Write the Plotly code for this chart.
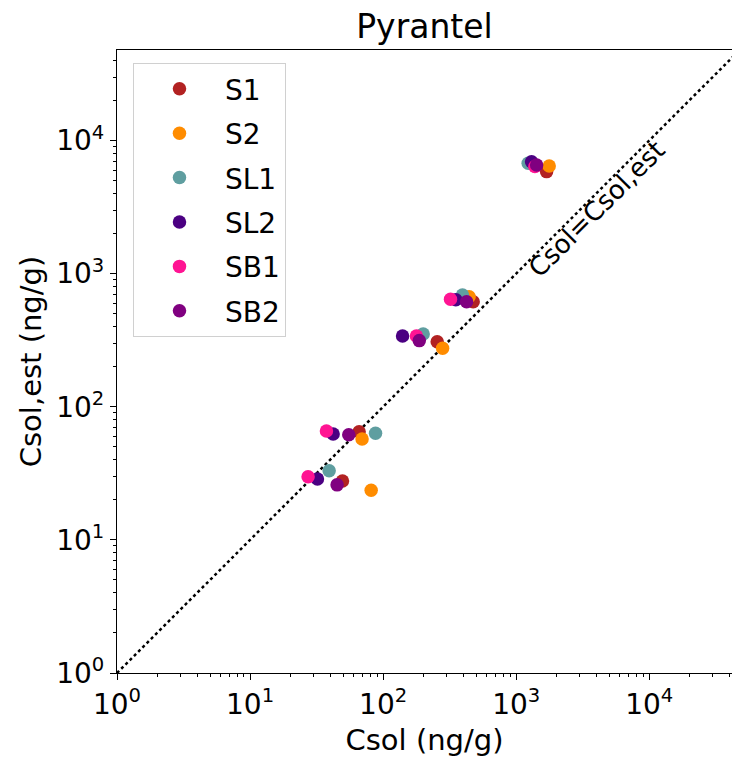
import plotly.graph_objects as go

# Data (ng/g)
series_names = ["S1", "S2", "SL1", "SL2", "SB1", "SB2"]
series_colors = ["#B22222", "#FF8C00", "#5F9EA0", "#4B0082", "#FF1493", "#800080"]

csol = {
    "S1":  [49.5, 66.0, 255, 475, 1693],
    "S2":  [81.3, 69.5, 280, 443, 1771],
    "SL1": [39.3, 87.7, 200, 395, 1231],
    "SL2": [32.1, 42.1, 140, 352, 1305],
    "SB1": [27.3, 37.5, 178, 321, 1383],
    "SB2": [45.1, 55.2, 187, 424, 1425],
}
csol_est = {
    "S1":  [27.7, 65.0, 308, 616, 5840],
    "S2":  [23.6, 57.3, 275, 671, 6440],
    "SL1": [33.1, 63.2, 352, 692, 6750],
    "SL2": [28.7, 62.5, 340, 636, 6930],
    "SB1": [29.8, 65.8, 340, 642, 6370],
    "SB2": [25.9, 61.7, 314, 616, 6560],
}

identity_x = [1, 50000]
identity_y = [1, 50000]

tick_vals = [1, 10, 100, 1000, 10000]
tick_text = ["10<sup>0</sup>", "10<sup>1</sup>", "10<sup>2</sup>", "10<sup>3</sup>", "10<sup>4</sup>"]

FONT = "DejaVu Sans"

fig = go.Figure()

fig.add_trace(go.Scatter(
    x=identity_x, y=identity_y, mode="lines",
    line=dict(color="black", width=2.5, dash="dot"),
    showlegend=False, hoverinfo="skip",
))

for name, color in zip(series_names, series_colors):
    fig.add_trace(go.Scatter(
        x=csol[name], y=csol_est[name], mode="markers", name=name,
        legendgroup=name,
        marker=dict(color=color, size=13.5, line=dict(width=0)),
    ))

fig.add_annotation(
    x=3.605, y=3.485, xref="x", yref="y",
    text="Csol=Csol,est", showarrow=False, textangle=-45,
    font=dict(family=FONT, size=26, color="black"),
)

axis_common = dict(
    type="log",
    showgrid=False, zeroline=False,
    showline=True, linecolor="black", linewidth=1.2,
    ticks="outside", ticklen=6, tickwidth=1, tickcolor="black",
    tickvals=tick_vals, ticktext=tick_text,
    tickfont=dict(family=FONT, size=28, color="black"),
    minor=dict(ticks="outside", ticklen=3, tickwidth=0.8, tickcolor="black", dtick="D1"),
)

fig.update_xaxes(
    **axis_common, range=[0, 4.622], mirror=True,
    title=dict(text="Csol (ng/g)", font=dict(family=FONT, size=29, color="black"), standoff=9),
)
fig.update_yaxes(
    **axis_common, range=[0, 4.68],
    title=dict(text="Csol,est (ng/g)", font=dict(family=FONT, size=29, color="black"), standoff=6),
)

fig.update_layout(
    width=732, height=760,
    margin=dict(l=117, r=0, t=50, b=87),
    paper_bgcolor="white", plot_bgcolor="white",
    font=dict(family=FONT, color="black"),
    title=dict(text="Pyrantel", x=0.5, xref="paper", xanchor="center",
               y=1 - 26 / 760, yref="container", yanchor="middle",
               font=dict(family=FONT, size=33, color="black")),
    legend=dict(
        x=0.026, y=0.979, xanchor="left", yanchor="top",
        bgcolor="white", bordercolor="#d0d0d0", borderwidth=1,
        font=dict(family=FONT, size=28, color="black"),
        tracegroupgap=5, itemwidth=81,
    ),
)

fig.write_html("out.html", config={"displayModeBar": False},
               post_script="document.body.style.margin='0';")
